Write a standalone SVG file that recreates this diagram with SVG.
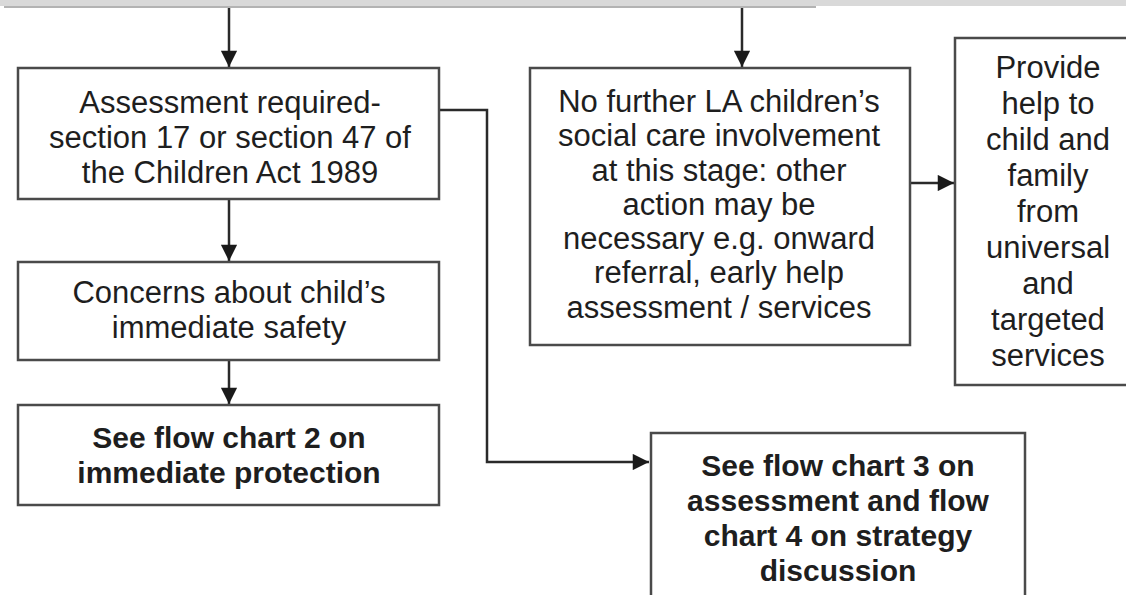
<svg xmlns="http://www.w3.org/2000/svg" width="1126" height="595" viewBox="0 0 1126 595">
  <style>
    .box { fill: #ffffff; stroke: #4a4a4a; stroke-width: 2.5; }
    .link { fill: none; stroke: #2a2a2a; stroke-width: 2.5; }
    .t { font-family: "Liberation Sans", Arial, sans-serif; font-size: 31px; fill: #1e1e1e; text-anchor: middle; }
    .b { font-weight: bold; font-size: 30px; }
  </style>
  <defs>
    <marker id="arrowL" viewBox="0 0 10 10" refX="10" refY="5" markerWidth="7" markerHeight="6.5" markerUnits="strokeWidth" orient="auto">
      <path d="M0,0 L10,5 L0,10 z" fill="#1a1a1a"/>
    </marker>
  </defs>
  <rect width="1126" height="595" fill="#ffffff"/>
  <!-- top band and edge of the box above -->
  <rect x="0" y="0" width="1126" height="6" fill="#d9d9d9"/>
  <line x1="4" y1="7" x2="816" y2="7" stroke="#9a9a9a" stroke-width="1.5"/>

  <g id="connectors">
    <line class="link" x1="229" y1="8" x2="229" y2="67" marker-end="url(#arrowL)"/>
    <line class="link" x1="742" y1="8" x2="742" y2="67" marker-end="url(#arrowL)"/>
    <line class="link" x1="229" y1="200" x2="229" y2="261" marker-end="url(#arrowL)"/>
    <line class="link" x1="229" y1="360" x2="229" y2="404" marker-end="url(#arrowL)"/>
    <polyline class="link" points="439,110 487,110 487,462 649,462" marker-end="url(#arrowL)"/>
    <line class="link" x1="910" y1="183" x2="954" y2="183" marker-end="url(#arrowL)"/>
  </g>

  <g id="assessment">
    <rect class="box" x="18" y="68" width="421" height="131"/>
    <text class="t" x="230" y="113">Assessment required-</text>
    <text class="t" x="230" y="148">section 17 or section 47 of</text>
    <text class="t" x="230" y="183">the Children Act 1989</text>
  </g>

  <g id="safety">
    <rect class="box" x="18" y="262" width="421" height="98"/>
    <text class="t" x="229" y="303">Concerns about child’s</text>
    <text class="t" x="229" y="338">immediate safety</text>
  </g>

  <g id="chart2">
    <rect class="box" x="18" y="405" width="421" height="100"/>
    <text class="t b" x="229" y="448">See flow chart 2 on</text>
    <text class="t b" x="229" y="483">immediate protection</text>
  </g>

  <g id="no-further">
    <rect class="box" x="530" y="68" width="380" height="277"/>
    <text class="t" x="719" y="112">No further LA children’s</text>
    <text class="t" x="719" y="146">social care involvement</text>
    <text class="t" x="719" y="181">at this stage: other</text>
    <text class="t" x="719" y="215">action may be</text>
    <text class="t" x="719" y="249">necessary e.g. onward</text>
    <text class="t" x="719" y="283">referral, early help</text>
    <text class="t" x="719" y="318">assessment / services</text>
  </g>

  <g id="provide-help">
    <rect class="box" x="955" y="38" width="180" height="347"/>
    <text class="t" x="1048" y="78">Provide</text>
    <text class="t" x="1048" y="114">help to</text>
    <text class="t" x="1048" y="150">child and</text>
    <text class="t" x="1048" y="186">family</text>
    <text class="t" x="1048" y="222">from</text>
    <text class="t" x="1048" y="258">universal</text>
    <text class="t" x="1048" y="294">and</text>
    <text class="t" x="1048" y="330">targeted</text>
    <text class="t" x="1048" y="366">services</text>
  </g>

  <g id="chart3-4">
    <rect class="box" x="651" y="433" width="374" height="170"/>
    <text class="t b" x="838" y="476">See flow chart 3 on</text>
    <text class="t b" x="838" y="511">assessment and flow</text>
    <text class="t b" x="838" y="546">chart 4 on strategy</text>
    <text class="t b" x="838" y="581">discussion</text>
  </g>
</svg>
